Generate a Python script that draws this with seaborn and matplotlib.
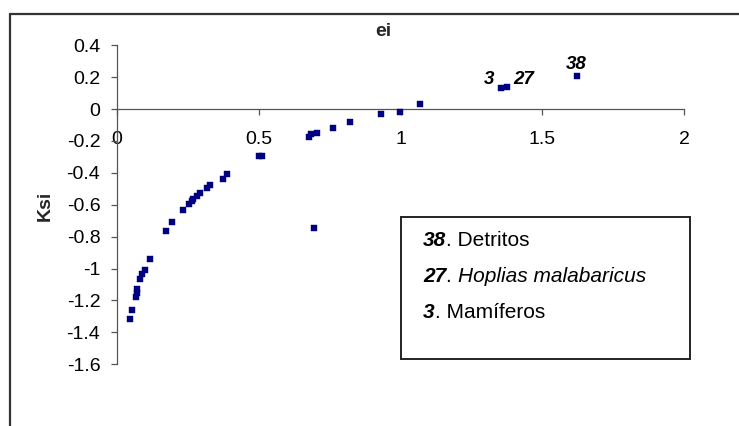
import matplotlib
matplotlib.use("Agg")
import matplotlib.pyplot as plt
from matplotlib.lines import Line2D
from matplotlib.patches import Rectangle
from matplotlib.offsetbox import TextArea, HPacker, AnchoredOffsetbox
import seaborn as sns
import pandas as pd

# Feeding-strategy diagram: specific abundance (Ksi) against occurrence (ei) per food item
ei = [0.047, 0.054, 0.066, 0.069, 0.072, 0.081, 0.087, 0.098, 0.115, 0.172,
      0.193, 0.232, 0.254, 0.263, 0.267, 0.281, 0.293, 0.316, 0.327, 0.373,
      0.389, 0.501, 0.513, 0.678, 0.684, 0.707, 0.695, 0.763, 0.823, 0.930,
      0.998, 1.069, 1.353, 1.377, 1.623]
ksi = [-1.317, -1.258, -1.181, -1.152, -1.130, -1.064, -1.034, -1.008, -0.940, -0.765,
       -0.708, -0.631, -0.594, -0.575, -0.564, -0.544, -0.525, -0.495, -0.476, -0.439,
       -0.409, -0.295, -0.295, -0.174, -0.159, -0.150, -0.748, -0.121, -0.082, -0.033,
       -0.016, 0.033, 0.130, 0.140, 0.208]

# Labelled items
item_ids = ["3", "27", "38"]
item_ei = [1.353, 1.377, 1.623]
item_ksi = [0.130, 0.140, 0.208]

x_ticks = [0, 0.5, 1, 1.5, 2]
x_tick_labels = ["0", "0.5", "1", "1.5", "2"]
y_ticks = [0.4, 0.2, 0, -0.2, -0.4, -0.6, -0.8, -1, -1.2, -1.4, -1.6]
y_tick_labels = ["0.4", "0.2", "0", "-0.2", "-0.4", "-0.6", "-0.8", "-1", "-1.2", "-1.4", "-1.6"]

key_rows = [
    [("38", "bi"), (". Detritos", "n")],
    [("27", "bi"), (". ", "n"), ("Hoplias malabaricus", "i")],
    [("3", "bi"), (". Mamíferos", "n")],
]

sns.set_theme(style="white")
plt.rcParams["font.family"] = ["Liberation Sans", "DejaVu Sans"]
plt.rcParams["axes.unicode_minus"] = False

W, H = 739, 426
fig = plt.figure(figsize=(W / 100, H / 100), dpi=100)
fig.patch.set_facecolor("white")

def fx(px):
    return px / W

def fy(py):
    return 1 - py / H

ax = fig.add_axes([fx(117), fy(364.2), fx(684) - fx(117), fy(45.2) - fy(364.2)])
ax.set_facecolor("white")

df = pd.DataFrame({"ei": ei, "Ksi": ksi})
sns.scatterplot(data=df, x="ei", y="Ksi", marker="s", s=24, color="#000080",
                edgecolor="#000080", linewidth=0.3, ax=ax, legend=False, zorder=3)

ax.set_xlim(0, 2)
ax.set_ylim(-1.6, 0.4)
ax.set_xlabel("")
ax.set_ylabel("")

for side in ("top", "right"):
    ax.spines[side].set_visible(False)
ax.spines["bottom"].set_position(("data", 0))
for side in ("left", "bottom"):
    ax.spines[side].set_color("#555555")
    ax.spines[side].set_linewidth(0.9)

ax.set_xticks(x_ticks)
ax.set_xticklabels(x_tick_labels)
ax.set_yticks(y_ticks)
ax.set_yticklabels(y_tick_labels)
ax.tick_params(axis="x", direction="out", length=4.5, width=0.9, color="#555555",
               pad=11.5, labelsize=14, labelcolor="black", bottom=True)
ax.tick_params(axis="y", direction="out", length=4, width=0.9, color="#555555",
               pad=8, labelsize=14, labelcolor="black", left=True)

# Item numbers next to their points
label_offsets = {"3": (-8, 6.5), "27": (12, 5.5), "38": (-0.5, 8.5)}
for name, xv, yv in zip(item_ids, item_ei, item_ksi):
    ax.annotate(name, (xv, yv), xytext=label_offsets[name], textcoords="offset points",
                ha="center", va="center", fontsize=13.5, fontweight="bold",
                fontstyle="italic", color="black")

# Axis titles
fig.text(fx(383), fy(31), "ei", ha="center", va="center", fontsize=14, fontweight="bold")
fig.text(fx(45), fy(206), "Ksi", ha="center", va="center", rotation=90,
         fontsize=14, fontweight="bold")

# Key box
fig.add_artist(Rectangle((fx(401), fy(359)), fx(690) - fx(401), fy(217) - fy(359),
                         transform=fig.transFigure, fill=False, edgecolor="#222222",
                         linewidth=1.4))
styles = {
    "bi": dict(fontweight="bold", fontstyle="italic"),
    "i": dict(fontstyle="italic"),
    "n": dict(),
}
row_y = [240, 276, 312]
for row, yc in zip(key_rows, row_y):
    parts = [TextArea(txt, textprops=dict(fontsize=15, color="black", **styles[st]))
             for txt, st in row]
    packed = HPacker(children=parts, align="baseline", pad=0, sep=0)
    box = AnchoredOffsetbox(loc="center left", child=packed, frameon=False, pad=0,
                            borderpad=0, bbox_to_anchor=(fx(423), fy(yc)),
                            bbox_transform=fig.transFigure)
    fig.add_artist(box)

# Outer frame of the chart area
fig.add_artist(Line2D([fx(10), fx(10)], [0, fy(14)], transform=fig.transFigure,
                      color="#333333", linewidth=1.6))
fig.add_artist(Line2D([fx(10), 1], [fy(14), fy(14)], transform=fig.transFigure,
                      color="#333333", linewidth=1.6))

fig.savefig("out.png", dpi=100, facecolor="white")
